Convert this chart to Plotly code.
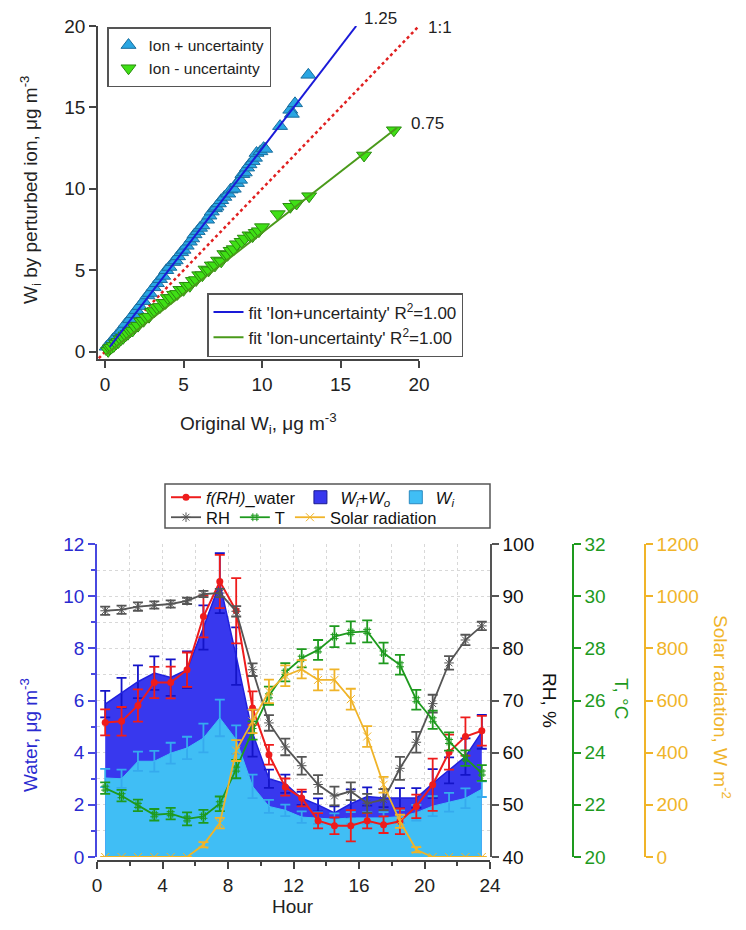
import plotly.graph_objects as go

W, H = 746, 930
FONT = "Liberation Sans, Arial, sans-serif"

# ---------------- top panel data ----------------
plus_x = [0.1, 0.3, 0.5, 0.7, 0.9, 1.05, 1.3, 1.6, 1.8, 2.0, 2.2, 2.45, 2.7, 2.85, 3.1, 3.3, 3.5,
          3.7, 3.9, 4.1, 4.35, 4.5, 4.65, 4.85, 5.0, 5.2, 5.4, 5.55, 5.7, 5.9, 6.05, 6.2, 6.5,
          6.65, 6.8, 7.0, 7.1, 7.25, 7.4, 7.6, 7.85, 8.0, 8.2, 8.4, 8.6, 8.75, 8.9, 9.05, 9.2,
          9.4, 9.55, 9.65, 9.9, 10.1, 10.2, 11.15, 11.8, 11.9, 12.1, 12.95]
plus_y = [0.3, 0.5, 0.75, 0.95, 1.2, 1.3, 1.7, 2.0, 2.3, 2.55, 2.8, 3.1, 3.45, 3.6, 3.95, 4.2, 4.45,
          4.65, 5.0, 5.2, 5.5, 5.6, 5.85, 6.1, 6.25, 6.5, 6.75, 6.95, 7.2, 7.4, 7.6, 7.75, 8.1,
          8.35, 8.6, 8.8, 8.9, 9.1, 9.3, 9.5, 9.7, 9.95, 10.0, 10.35, 10.55, 10.9, 11.0, 11.3, 11.5,
          11.7, 11.9, 12.2, 12.3, 12.5, 12.45, 13.85, 14.85, 14.6, 15.25, 17.0]
minus_x = [0.2, 0.3, 0.4, 0.55, 0.7, 0.85, 1.0, 1.15, 1.3, 1.45, 1.6, 1.75, 1.9, 2.1, 2.3, 2.45,
           2.6, 2.8, 3.0, 3.15, 3.3, 3.5, 3.7, 3.85, 4.0, 4.2, 4.4, 4.6, 4.8, 5.0, 5.2, 5.4, 5.6,
           5.8, 6.0, 6.2, 6.4, 6.6, 6.8, 7.0, 7.2, 7.4, 7.6, 7.8, 8.0, 8.2, 8.4, 8.7, 8.9, 9.2,
           9.4, 9.6, 9.8, 10.0, 11.0, 11.8, 12.2, 13.0, 16.5, 18.4]
minus_y = [0.05, 0.2, 0.25, 0.35, 0.5, 0.6, 0.75, 0.85, 1.0, 1.1, 1.25, 1.3, 1.5, 1.6, 1.85, 1.9,
           2.1, 2.15, 2.45, 2.5, 2.7, 2.75, 3.0, 3.0, 3.3, 3.3, 3.5, 3.55, 3.8, 3.8, 4.05, 4.05,
           4.35, 4.4, 4.7, 4.7, 5.05, 5.0, 5.3, 5.3, 5.6, 5.55, 6.0, 5.95, 6.2, 6.3, 6.6, 6.75,
           6.95, 7.15, 7.1, 7.3, 7.4, 7.65, 8.45, 8.9, 9.1, 9.55, 12.05, 13.6]
fit_plus_x = [0.3, 16.0]
fit_plus_y = [0.3, 20.0]
fit_minus_x = [0.0, 18.6]
fit_minus_y = [-0.2, 13.75]
one_x = [-0.4, 19.9]
one_y = [-0.4, 19.9]

# ---------------- bottom panel data ----------------
hours = [0.5, 1.5, 2.5, 3.5, 4.5, 5.5, 6.5, 7.5, 8.5, 9.5, 10.5, 11.5,
         12.5, 13.5, 14.5, 15.5, 16.5, 17.5, 18.5, 19.5, 20.5, 21.5, 22.5, 23.5]
wiwo = [5.86, 6.3, 6.72, 7.05, 6.88, 7.18, 8.8, 10.5, 7.7, 4.75, 3.0, 2.81,
        2.25, 2.0, 1.69, 2.04, 2.32, 2.26, 2.26, 2.26, 2.82, 3.32, 3.85, 4.8]
wiwo_err = [0.51, 0.57, 0.63, 0.64, 0.7, 0.7, 0.85, 1.15, 1.1, 0.9, 0.35, 0.35,
            0.25, 0.25, 0.25, 0.55, 0.35, 0.35, 0.38, 0.38, 0.55, 0.5, 0.7, 0.65]
wi = [3.03, 3.0, 3.67, 3.67, 3.98, 4.18, 4.56, 5.33, 4.5, 2.71, 1.94, 1.79,
      1.53, 1.49, 1.45, 1.5, 1.5, 1.5, 1.55, 1.7, 1.95, 2.1, 2.25, 2.6]
wi_err = [0.35, 0.35, 0.37, 0.4, 0.4, 0.43, 0.55, 0.7, 0.55, 0.45, 0.25, 0.22,
          0.22, 0.22, 0.22, 0.22, 0.22, 0.22, 0.25, 0.3, 0.38, 0.36, 0.38, 0.3]
frh = [5.16, 5.2, 5.81, 6.69, 6.69, 7.18, 9.22, 10.56, 9.44, 5.71, 3.92, 2.68,
       2.26, 1.39, 1.2, 1.2, 1.39, 1.24, 1.37, 1.94, 2.77, 4.02, 4.62, 4.84]
frh_err = [0.5, 0.55, 0.62, 0.6, 0.61, 0.66, 0.8, 1.02, 1.25, 0.64, 0.38, 0.33,
           0.32, 0.29, 0.32, 0.6, 0.29, 0.32, 0.49, 0.45, 1.0, 0.67, 0.73, 0.57]
rh = [87.2, 87.4, 88.0, 88.3, 88.5, 89.1, 90.4, 90.6, 87.1, 75.9, 65.7, 61.1,
      57.5, 53.9, 51.7, 52.6, 50.3, 51.0, 57.0, 62.0, 69.4, 77.2, 81.6, 84.3]
rh_err = [0.8, 0.8, 0.8, 0.7, 0.7, 0.6, 0.6, 0.8, 1.0, 1.2, 1.5, 1.6,
          1.7, 1.8, 1.8, 1.7, 1.8, 2.0, 2.2, 2.0, 1.7, 1.3, 1.0, 0.8]
temp = [22.64, 22.35, 21.98, 21.62, 21.66, 21.46, 21.56, 22.04, 23.37, 24.85, 26.18, 27.08,
        27.62, 27.94, 28.45, 28.61, 28.65, 27.82, 27.37, 26.03, 25.26, 24.43, 23.79, 23.22]
temp_err = [0.22, 0.22, 0.22, 0.22, 0.22, 0.25, 0.25, 0.28, 0.35, 0.35, 0.35, 0.35,
            0.35, 0.38, 0.4, 0.42, 0.42, 0.4, 0.38, 0.38, 0.35, 0.35, 0.3, 0.3]
solar = [0, 0, 0, 0, 0, 0, 47, 130, 408, 520, 635, 695,
         720, 679, 679, 605, 462, 277, 137, 28, 0, 0, 0, 0]
solar_err = [0, 0, 0, 0, 0, 0, 10, 20, 40, 45, 45, 40,
             35, 40, 40, 40, 40, 30, 25, 10, 0, 0, 0, 0]

BLUE_AREA = "#3838ee"
BLUE_ERR = "#1414c8"
LBLUE = "#40bef5"
LBLUE_ERR = "#35aaee"
RED = "#ee1c1c"
GRAY = "#555555"
GREEN = "#1e9a1e"
ORANGE = "#f0b429"


def px_x(p):
    return p / W


def px_y(p):
    return 1 - p / H


fig = go.Figure()

# ---- top panel traces ----
fig.add_trace(go.Scatter(x=one_x, y=one_y, mode="lines", xaxis="x2", yaxis="y5",
                         line=dict(color="#e02020", width=2.5, dash="dot"), showlegend=False))
fig.add_trace(go.Scatter(x=plus_x, y=plus_y, mode="markers", xaxis="x2", yaxis="y5",
                         name="Ion + uncertainty", legend="legend",
                         marker=dict(symbol="triangle-up", size=13, color="#2aa6e2",
                                     line=dict(color="#1a6e9e", width=1))))
fig.add_trace(go.Scatter(x=minus_x, y=minus_y, mode="markers", xaxis="x2", yaxis="y5",
                         name="Ion - uncertainty", legend="legend",
                         marker=dict(symbol="triangle-down", size=13, color="#3fe015",
                                     line=dict(color="#2a8a10", width=1))))
fig.add_trace(go.Scatter(x=fit_plus_x, y=fit_plus_y, mode="lines", xaxis="x2", yaxis="y5",
                         name="fit 'Ion+uncertainty' R<sup>2</sup>=1.00", legend="legend2",
                         line=dict(color="#1a1ad8", width=2)))
fig.add_trace(go.Scatter(x=fit_minus_x, y=fit_minus_y, mode="lines", xaxis="x2", yaxis="y5",
                         name="fit 'Ion-uncertainty' R<sup>2</sup>=1.00", legend="legend2",
                         line=dict(color="#4a9a1a", width=2)))

# ---- bottom panel traces ----
fig.add_trace(go.Scatter(x=hours, y=wiwo, mode="lines", xaxis="x", yaxis="y", fill="tozeroy",
                         fillcolor=BLUE_AREA, showlegend=False,
                         line=dict(color="#2020dd", width=1.5),
                         error_y=dict(type="data", array=wiwo_err, color=BLUE_ERR,
                                      thickness=1.8, width=5)))
fig.add_trace(go.Scatter(x=hours, y=wi, mode="lines", xaxis="x", yaxis="y", fill="tozeroy",
                         fillcolor=LBLUE, showlegend=False,
                         line=dict(color=LBLUE, width=1),
                         error_y=dict(type="data", array=wi_err, color=LBLUE_ERR,
                                      thickness=1.8, width=5)))
# legend keys (square swatches) for the two areas
fig.add_trace(go.Scatter(x=[None], y=[None], mode="markers", xaxis="x", yaxis="y",
                         name="<i>W<sub>i</sub></i>+<i>W<sub>o</sub></i>", legend="legend3",
                         legendrank=2,
                         marker=dict(symbol="square", size=13, color=BLUE_AREA,
                                     line=dict(color="#1a1a90", width=1))))
fig.add_trace(go.Scatter(x=[None], y=[None], mode="markers", xaxis="x", yaxis="y",
                         name="<i>W<sub>i</sub></i>", legend="legend3", legendrank=3,
                         marker=dict(symbol="square", size=13, color=LBLUE,
                                     line=dict(color="#2a8ac0", width=1))))
fig.add_trace(go.Scatter(x=hours, y=frh, mode="lines+markers", xaxis="x", yaxis="y",
                         name="<i>f(RH)</i>_water", legend="legend3", legendrank=1,
                         line=dict(color=RED, width=2), marker=dict(size=7, color=RED),
                         error_y=dict(type="data", array=frh_err, color=RED,
                                      thickness=1.8, width=5)))
fig.add_trace(go.Scatter(x=hours, y=rh, mode="lines+markers", xaxis="x", yaxis="y2",
                         name="RH", legend="legend4",
                         line=dict(color=GRAY, width=1.8),
                         marker=dict(symbol="asterisk-open", size=8, color=GRAY,
                                     line=dict(color=GRAY, width=1)),
                         error_y=dict(type="data", array=rh_err, color=GRAY,
                                      thickness=1.8, width=5)))
fig.add_trace(go.Scatter(x=hours, y=temp, mode="lines+markers", xaxis="x", yaxis="y3",
                         name="T", legend="legend4",
                         line=dict(color=GREEN, width=1.8),
                         marker=dict(symbol="hash-open", size=8, color=GREEN,
                                     line=dict(color=GREEN, width=1)),
                         error_y=dict(type="data", array=temp_err, color=GREEN,
                                      thickness=1.8, width=5)))
fig.add_trace(go.Scatter(x=hours, y=solar, mode="lines+markers", xaxis="x", yaxis="y4",
                         name="Solar radiation", legend="legend4",
                         line=dict(color=ORANGE, width=1.8),
                         marker=dict(symbol="x-thin-open", size=8, color=ORANGE,
                                     line=dict(color=ORANGE, width=1)),
                         error_y=dict(type="data", array=solar_err, color=ORANGE,
                                      thickness=1.8, width=5)))

tick_common = dict(ticks="outside", ticklen=7, tickwidth=1.5, showline=True, linewidth=1.5,
                   zeroline=False, automargin=False)

fig.update_layout(
    width=W, height=H, margin=dict(l=0, r=0, t=0, b=0, autoexpand=False),
    paper_bgcolor="white", plot_bgcolor="white",
    font=dict(family=FONT, size=19, color="#222"),
    # bottom panel axes
    xaxis=dict(domain=[px_x(97), px_x(490)], range=[0, 24], anchor="free", position=px_y(861),
               tickmode="linear", tick0=0, dtick=4, showgrid=True, gridcolor="#d8d8d8",
               griddash="dot", gridwidth=1, linecolor="#444", tickcolor="#444",
               minor=dict(dtick=2, ticklen=4, showgrid=True, gridcolor="#d8d8d8",
                          griddash="dot", tickcolor="#444"),
               tickfont=dict(size=19, color="#222"), **tick_common),
    yaxis=dict(domain=[px_y(857), px_y(544)], range=[0, 12], anchor="x",
               tickmode="linear", tick0=0, dtick=2, showgrid=True, gridcolor="#d8d8d8",
               griddash="dot", linecolor="#4848e0", tickcolor="#4848e0",
               minor=dict(dtick=1, ticklen=4, showgrid=True, gridcolor="#d8d8d8",
                          griddash="dot", tickcolor="#4848e0"),
               tickfont=dict(size=19, color="#2a2ad0"), **tick_common),
    yaxis2=dict(overlaying="y", side="right", anchor="x", range=[40, 100], dtick=10,
                showgrid=False, linecolor="#555", tickcolor="#555",
                tickfont=dict(size=19, color="#111"), **tick_common),
    yaxis3=dict(overlaying="y", side="right", anchor="free", position=px_x(573),
                range=[20, 32], dtick=2, showgrid=False, linecolor=GREEN, tickcolor=GREEN,
                tickfont=dict(size=19, color=GREEN), **tick_common),
    yaxis4=dict(overlaying="y", side="right", anchor="free", position=px_x(645),
                range=[0, 1200], dtick=200, showgrid=False, linecolor=ORANGE, tickcolor=ORANGE,
                tickfont=dict(size=19, color=ORANGE), **tick_common),
    # top panel axes
    xaxis2=dict(domain=[px_x(98), px_x(419)], range=[-0.45, 20], anchor="y5", dtick=5,
                tick0=0, showgrid=False, linecolor="#444", tickcolor="#444",
                tickfont=dict(size=19, color="#222"), **tick_common),
    yaxis5=dict(domain=[px_y(359), px_y(26)], range=[-0.45, 20], anchor="x2", dtick=5,
                tick0=0, showgrid=False, linecolor="#444", tickcolor="#444",
                tickfont=dict(size=19, color="#222"), **tick_common),
    legend=dict(x=px_x(107), y=px_y(27), xanchor="left", yanchor="top", bgcolor="white",
                bordercolor="#555", borderwidth=1.5, font=dict(size=15.5, color="#222"),
                itemwidth=30, tracegroupgap=0),
    legend2=dict(x=px_x(207), y=px_y(293), xanchor="left", yanchor="top", bgcolor="white",
                 bordercolor="#555", borderwidth=1.5, font=dict(size=17, color="#222"),
                 itemwidth=30),
    legend3=dict(x=px_x(166), y=px_y(480), xanchor="left", yanchor="top",
                 orientation="h", bgcolor="rgba(0,0,0,0)", font=dict(size=16.5, color="#111"),
                 itemwidth=30, itemclick=False),
    legend4=dict(x=px_x(166), y=px_y(500), xanchor="left", yanchor="top",
                 orientation="h", bgcolor="rgba(0,0,0,0)", font=dict(size=16.5, color="#111"),
                 itemwidth=30, itemclick=False),
    shapes=[dict(type="rect", xref="paper", yref="paper", x0=px_x(165), x1=px_x(490),
                 y0=px_y(528), y1=px_y(484), line=dict(color="#555", width=1.5))],
)

ann = [
    dict(text="W<sub>i</sub> by perturbed ion, μg m<sup>-3</sup>", x=px_x(30), y=px_y(190),
         textangle=-90, font=dict(size=19, color="#222")),
    dict(text="Original W<sub>i</sub>, μg m<sup>-3</sup>", x=px_x(258), y=px_y(423),
         font=dict(size=19, color="#222")),
    dict(text="1.25", x=px_x(380), y=px_y(18), font=dict(size=17, color="#222")),
    dict(text="1:1", x=px_x(440), y=px_y(27), font=dict(size=17, color="#222")),
    dict(text="0.75", x=px_x(427), y=px_y(124), font=dict(size=17, color="#222")),
    dict(text="Water, μg m<sup>-3</sup>", x=px_x(29), y=px_y(735), textangle=-90,
         font=dict(size=19, color="#2a2ad0")),
    dict(text="RH, %", x=px_x(550), y=px_y(700), textangle=90, font=dict(size=19, color="#111")),
    dict(text="T, °C", x=px_x(622), y=px_y(698), textangle=90, font=dict(size=19, color=GREEN)),
    dict(text="Solar radiation, W m<sup>-2</sup>", x=px_x(722), y=px_y(707), textangle=90,
         font=dict(size=19, color=ORANGE)),
    dict(text="Hour", x=px_x(293), y=px_y(906), font=dict(size=19, color="#222")),
]
for a in ann:
    a.update(xref="paper", yref="paper", showarrow=False, xanchor="center", yanchor="middle")
fig.update_layout(annotations=ann)

fig.write_html("out.html", config={"displayModeBar": False},
               post_script="document.body.style.margin='0';document.body.style.padding='0';")
